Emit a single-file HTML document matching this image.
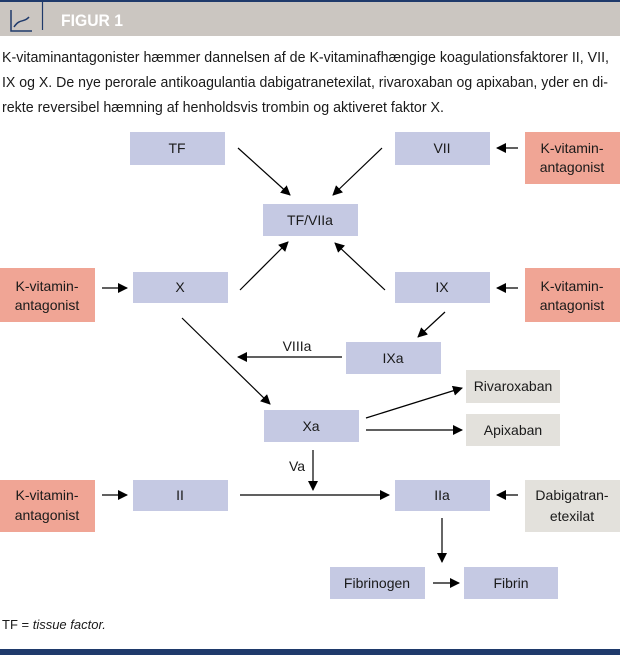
<!DOCTYPE html>
<html><head><style>
html,body{margin:0;padding:0;background:#fff;width:620px;height:655px;overflow:hidden}
svg text{font-family:"Liberation Sans",sans-serif;fill:#1a1a1a}
</style></head><body>
<svg width="620" height="655" viewBox="0 0 620 655" xmlns="http://www.w3.org/2000/svg">
<defs>
<marker id="a" markerWidth="10" markerHeight="10" refX="9" refY="5" orient="auto" markerUnits="userSpaceOnUse"><path d="M0,0 L10,5 L0,10 Z" fill="#000"/></marker>
</defs>
<rect x="0" y="0" width="620" height="2" fill="#1f3a6b"/>
<rect x="0" y="2" width="620" height="34" fill="#cbc6c1"/>
<path d="M11,10 V31 H32" stroke="#1f3a6b" stroke-width="1.5" fill="none"/>
<path d="M14,27 C20,18 24,23 29,17" stroke="#1f3a6b" stroke-width="1.5" fill="none"/>
<line x1="42.5" y1="2" x2="42.5" y2="30" stroke="#1f3a6b" stroke-width="1.2"/>
<text x="61" y="26" font-size="17" font-weight="bold" style="fill:#fff" textLength="62" lengthAdjust="spacingAndGlyphs">FIGUR 1</text>
<text x="2" y="62" font-size="14.5" textLength="607" lengthAdjust="spacingAndGlyphs">K-vitaminantagonister hæmmer dannelsen af de K-vitaminafhængige koagulationsfaktorer II, VII,</text>
<text x="2" y="87" font-size="14.5" textLength="606" lengthAdjust="spacingAndGlyphs">IX og X. De nye perorale antikoagulantia dabigatranetexilat, rivaroxaban og apixaban, yder en di-</text>
<text x="2" y="112" font-size="14.5" textLength="442" lengthAdjust="spacingAndGlyphs">rekte reversibel hæmning af henholdsvis trombin og aktiveret faktor X.</text>
<g font-size="14" text-anchor="middle">
<rect x="130" y="132" width="95" height="33" fill="#c5c9e3"/><text x="177" y="153">TF</text>
<rect x="395" y="132" width="95" height="33" fill="#c5c9e3"/><text x="442" y="153">VII</text>
<rect x="525" y="132" width="95" height="52" fill="#f0a595"/><text x="572" y="153">K-vitamin-</text><text x="572" y="172">antagonist</text>
<rect x="263" y="204" width="95" height="32" fill="#c5c9e3"/><text x="310" y="225">TF/VIIa</text>
<rect x="0" y="268" width="95" height="54" fill="#f0a595"/><text x="47" y="291">K-vitamin-</text><text x="47" y="310">antagonist</text>
<rect x="133" y="272" width="95" height="31" fill="#c5c9e3"/><text x="180" y="292">X</text>
<rect x="395" y="272" width="95" height="31" fill="#c5c9e3"/><text x="442" y="292">IX</text>
<rect x="525" y="268" width="95" height="54" fill="#f0a595"/><text x="572" y="291">K-vitamin-</text><text x="572" y="310">antagonist</text>
<rect x="346" y="342" width="95" height="32" fill="#c5c9e3"/><text x="393" y="363">IXa</text>
<rect x="466" y="370" width="94" height="33" fill="#e3e1dc"/><text x="513" y="391">Rivaroxaban</text>
<rect x="466" y="414" width="94" height="32" fill="#e3e1dc"/><text x="513" y="435">Apixaban</text>
<rect x="264" y="410" width="95" height="32" fill="#c5c9e3"/><text x="311" y="431">Xa</text>
<rect x="0" y="480" width="95" height="52" fill="#f0a595"/><text x="47" y="500">K-vitamin-</text><text x="47" y="520">antagonist</text>
<rect x="133" y="480" width="95" height="31" fill="#c5c9e3"/><text x="180" y="500">II</text>
<rect x="395" y="480" width="95" height="31" fill="#c5c9e3"/><text x="442" y="500">IIa</text>
<rect x="525" y="480" width="95" height="52" fill="#e3e1dc"/><text x="572" y="500">Dabigatran-</text><text x="572" y="521">etexilat</text>
<rect x="330" y="567" width="95" height="32" fill="#c5c9e3"/><text x="377" y="588">Fibrinogen</text>
<rect x="464" y="567" width="94" height="32" fill="#c5c9e3"/><text x="511" y="588">Fibrin</text>
<text x="297" y="351">VIIIa</text>
<text x="297" y="471">Va</text>
</g>
<g stroke="#000" stroke-width="1.2" marker-end="url(#a)">
<line x1="238" y1="148" x2="290" y2="195"/>
<line x1="382" y1="148" x2="333" y2="195"/>
<line x1="240" y1="290" x2="288" y2="242"/>
<line x1="385" y1="290" x2="335" y2="243"/>
<line x1="102" y1="288" x2="127" y2="288"/>
<line x1="518" y1="288" x2="497" y2="288"/>
<line x1="518" y1="148" x2="497" y2="148"/>
<line x1="445" y1="312" x2="418" y2="337"/>
<line x1="342" y1="357" x2="238" y2="357"/>
<line x1="182" y1="318" x2="270" y2="404"/>
<line x1="366" y1="418" x2="462" y2="388"/>
<line x1="366" y1="430" x2="462" y2="430"/>
<line x1="313" y1="450" x2="313" y2="490"/>
<line x1="240" y1="495" x2="389" y2="495"/>
<line x1="102" y1="495" x2="127" y2="495"/>
<line x1="518" y1="495" x2="497" y2="495"/>
<line x1="442" y1="518" x2="442" y2="562"/>
<line x1="433" y1="583" x2="459" y2="583"/>
</g>
<text x="2" y="629" font-size="13">TF = <tspan font-style="italic">tissue factor.</tspan></text>
<rect x="0" y="649" width="620" height="6" fill="#1f3a6b"/>
</svg>
</body></html>
